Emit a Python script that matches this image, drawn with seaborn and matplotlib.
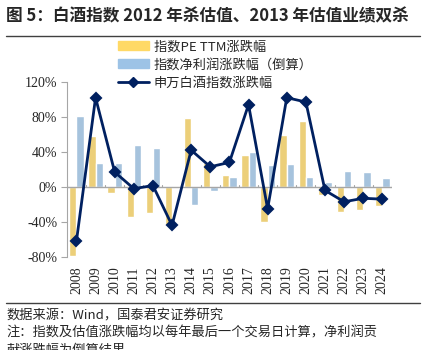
import pandas as pd
import numpy as np
import seaborn as sns
import matplotlib.pyplot as plt
from matplotlib.patches import Patch
from matplotlib.lines import Line2D
from matplotlib.ticker import FuncFormatter

# 数据
years = [str(y) for y in range(2008, 2025)]
pe_chg = [-79, 58, -7.5, -34, -30, -44, 79, 27, 14, 37, -40, 59, 75, -9.5, -29, -26, -22]
profit_chg = [81, 27, 27, 48, 44, 1.5, -21, -4.5, 11, 40, 25, 26, 11.5, 6, 18, 17, 10]
index_chg = [-62, 102, 17, -2, 1.5, -44, 42, 23, 28, 94, -25, 102, 97, -4, -17, -13, -14]

pe_label = '指数PE TTM涨跌幅'
profit_label = '指数净利润涨跌幅（倒算）'
index_label = '申万白酒指数涨跌幅'

yellow = '#FFD966'
blue = '#9DC3E6'
navy = '#002060'

sns.set_style('white')
plt.rcParams['font.family'] = ['Noto Sans CJK SC', 'DejaVu Sans']
plt.rcParams['axes.unicode_minus'] = False

df_bar = pd.DataFrame({
    'year': years * 2,
    'value': pe_chg + profit_chg,
    'series': [pe_label] * len(years) + [profit_label] * len(years),
})
df_line = pd.DataFrame({'year': years, 'value': index_chg})

fig = plt.figure(figsize=(4.26, 3.5), dpi=100)
ax = fig.add_axes([0.157, 0.266, 0.763, 0.5])

sns.barplot(data=df_bar, x='year', y='value', hue='series',
            palette=[yellow, blue], width=0.76, gap=0, ax=ax, legend=False)
sns.pointplot(data=df_line, x='year', y='value', color=navy, markers='D',
              linestyles='-', markersize=5, linewidth=2, ax=ax)

ax.set_ylim(-80, 120)
ax.set_xlim(-0.5, len(years) - 0.5)
ax.set_yticks([-80, -40, 0, 40, 80, 120])
ax.yaxis.set_major_formatter(FuncFormatter(lambda v, p: f'{v:.0f}%'))
ax.set_xlabel('')
ax.set_ylabel('')

for s in ['top', 'right', 'bottom']:
    ax.spines[s].set_visible(False)
ax.spines['left'].set_color('#A6A6A6')
ax.axhline(0, color='#A6A6A6', lw=1, zorder=1)

# 0轴上的小刻度
for i in range(len(years) + 1):
    ax.plot([i - 0.5, i - 0.5], [0, 2.5], color='#A6A6A6', lw=0.8, zorder=1)

ax.tick_params(axis='y', direction='out', length=4, color='#A6A6A6', left=True,
               labelsize=10, pad=3)
ax.tick_params(axis='x', length=0, labelsize=10, rotation=90, pad=7)
for lab in ax.get_yticklabels() + ax.get_xticklabels():
    lab.set_family('Liberation Serif')

handles = [Patch(color=yellow), Patch(color=blue),
           Line2D([], [], color=navy, lw=2, marker='D', markersize=5)]
fig.legend(handles, [pe_label, profit_label, index_label], loc='upper left',
           bbox_to_anchor=(0.262, 0.904), frameon=False, fontsize=9.5,
           handlelength=2.3, handleheight=0.7, labelspacing=0.38,
           handletextpad=0.4, borderpad=0)

# 标题与脚注
fig.text(0.015, 0.978, '图 5：白酒指数 2012 年杀估值、2013 年估值业绩双杀',
         fontsize=12, fontweight='bold', va='top', ha='left')
fig.add_artist(Line2D([0.015, 0.985], [0.898, 0.898], color='#404040', lw=1))
fig.add_artist(Line2D([0.015, 0.985], [0.135, 0.135], color='#404040', lw=1))
fig.text(0.015, 0.097, '数据来源：Wind，国泰君安证券研究', fontsize=9.5, va='center')
fig.text(0.015, 0.048, '注：指数及估值涨跌幅均以每年最后一个交易日计算，净利润贡',
         fontsize=9.5, va='center')
fig.text(0.015, 0.0, '献涨跌幅为倒算结果', fontsize=9.5, va='center')

plt.savefig('out.png', dpi=100)
plt.close()
